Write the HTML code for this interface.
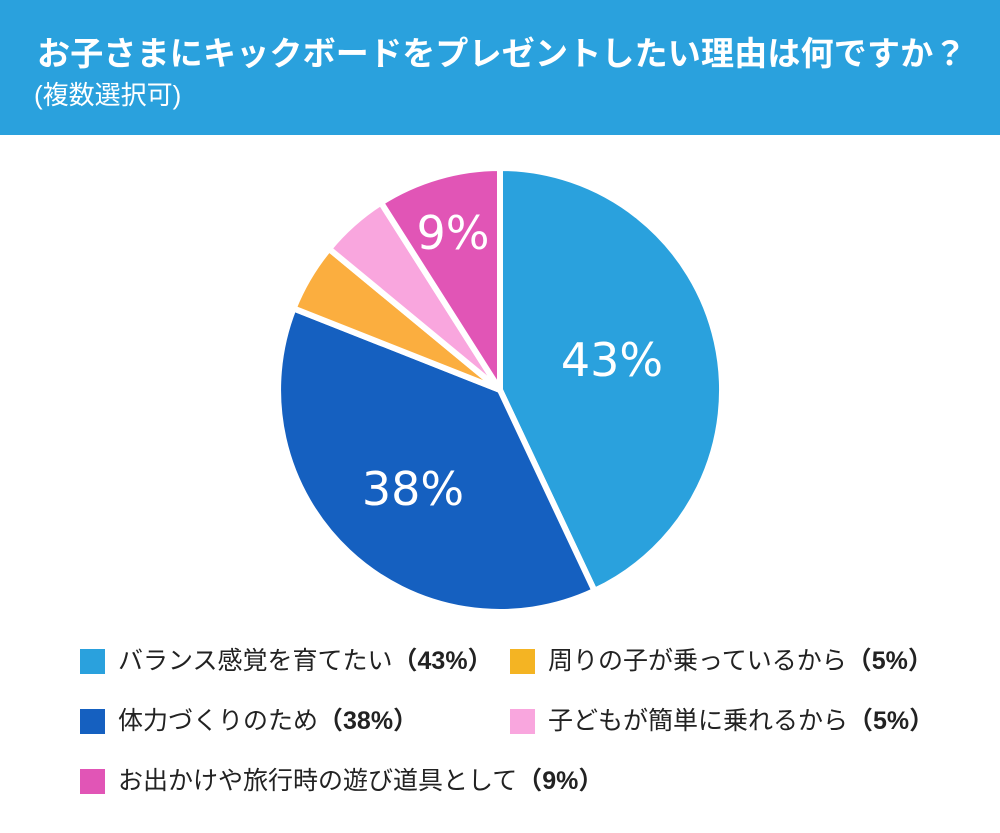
<!DOCTYPE html>
<html><head><meta charset="utf-8"><style>
body{margin:0;width:1000px;height:833px;background:#fff;font-family:"Liberation Sans","Noto Sans CJK JP",sans-serif;overflow:hidden;position:relative}
.hd{position:absolute;left:0;top:0;width:1000px;height:135px;background:#2aa1dd;color:#fff}
.t1{position:absolute;left:37px;top:27px;font-size:33px;font-weight:bold;white-space:nowrap;letter-spacing:0.2px}
.t2{position:absolute;left:34px;top:75px;font-size:26px;white-space:nowrap}
.lg{position:absolute;font-size:25px;color:#222;white-space:nowrap;height:30px;line-height:30px}
.lg i{position:absolute;left:-38px;top:3px;width:25px;height:25px}
.lg b{font-weight:bold}
</style></head><body>
<div class="hd"><div class="t1">お子さまにキックボードをプレゼントしたい理由は何ですか？</div><div class="t2">(複数選択可)</div></div>
<svg style="position:absolute;left:0;top:0" width="1000" height="833">
<g stroke="#fff" stroke-width="6" stroke-linejoin="miter">
<path d="M500,390 L500,168 A222,222 0 0 1 594.5,590.9 Z" fill="#2aa1dd"/>
<path d="M500,390 L594.5,590.9 A222,222 0 0 1 293.6,308.4 Z" fill="#1560c0"/>
<path d="M500,390 L293.6,308.4 A222,222 0 0 1 329,248.8 Z" fill="#fbae3f"/>
<path d="M500,390 L329,248.8 A222,222 0 0 1 381,202.6 Z" fill="#f9a6de"/>
<path d="M500,390 L381,202.6 A222,222 0 0 1 500,168 Z" fill="#e155b6"/>
</g>
<g fill="#fff" font-family="DejaVu Sans,sans-serif" font-size="46" text-anchor="middle">
<text x="612" y="376">43%</text>
<text x="413" y="505">38%</text>
<text x="453" y="249">9%</text>
</g>
</svg>
<div class="lg" style="left:118px;top:646px"><i style="background:#2aa1dd"></i>バランス感覚を育てたい<b>（43%）</b></div>
<div class="lg" style="left:548px;top:646px"><i style="background:#f4b423"></i>周りの子が乗っているから<b>（5%）</b></div>
<div class="lg" style="left:118px;top:706px"><i style="background:#1560c0"></i>体力づくりのため<b>（38%）</b></div>
<div class="lg" style="left:548px;top:706px"><i style="background:#f9a6de"></i>子どもが簡単に乗れるから<b>（5%）</b></div>
<div class="lg" style="left:118px;top:766px"><i style="background:#e155b6"></i>お出かけや旅行時の遊び道具として<b>（9%）</b></div>
</body></html>
